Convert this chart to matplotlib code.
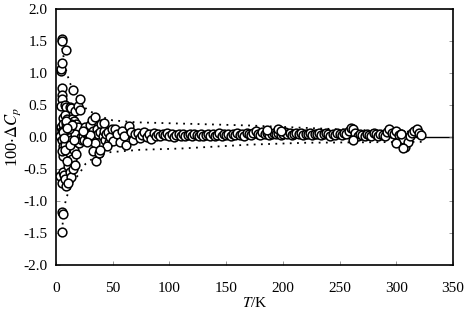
import numpy as np
import matplotlib
matplotlib.use('Agg')
import matplotlib.pyplot as plt

# low temperature cloud (T < 50 K)
t_low = [4.5, 4.0, 5.0, 5.0, 5.5, 9.0, 5.0, 5.0, 5.5, 4.5, 6.0, 4.0, 5.0, 6.0, 3.5,
         5.0, 6.0, 6.5, 5.5, 3.5, 5.5, 9.0, 6.0, 5.5, 6.0, 5.5, 7.0, 8.0,
         7.5, 9.0, 8.0, 10.0, 8.5, 11.0, 12.0, 13.5, 15.0, 14.0, 12.5, 10.0, 9.5, 11.0,
         12.0, 13.5, 15.0, 16.0, 17.0, 18.0, 19.5, 21.0, 21.0, 18.0, 17.0, 16.0, 14.0,
         10.5, 12.0, 13.0, 15.0, 17.0, 18.0, 20.0, 11.0, 9.5, 19.0, 20.0, 16.5, 22.0,
         23.0, 24.0, 25.0, 7.0, 8.0, 10.0, 13.0, 7.5, 9.0,
         26.0, 27.0, 28.0, 29.0, 30.0, 31.5, 34.0, 33.0, 32.0, 34.0, 36.0, 35.0, 38.0,
         37.0, 40.0, 39.0, 41.0, 42.0, 43.0, 44.0, 46.0, 47.0, 48.0, 50.0, 49.0,
         33.0, 37.5, 42.0, 45.0, 39.0, 30.0, 27.0, 24.0,
         6.5, 8.5, 11.5, 14.5, 7.0, 10.0, 12.5, 16.0]
dcp_low = [1.03, 1.07, 1.16, 1.53, 1.50, 1.36, 0.76, 0.66, 0.60, 0.48, 0.30, 0.15, 0.10, 0.20, 0.02,
           -0.05, -0.14, -0.30, -0.22, -0.61, -0.72, -0.77, -0.55, -1.17, -1.20, -1.48, -0.60, -0.65,
           0.50, 0.47, 0.35, 0.28, 0.15, 0.20, 0.47, 0.46, 0.74, 0.28, 0.10, 0.05, -0.08, -0.15,
           -0.25, -0.05, 0.12, 0.25, 0.40, 0.20, 0.48, 0.59, 0.42, 0.05, -0.10, -0.20, -0.35,
           -0.45, -0.55, -0.62, -0.50, -0.44, -0.27, -0.10, -0.72, -0.38, 0.15, -0.02, 0.05, 0.00,
           -0.05, 0.02, -0.05, 0.10, -0.12, 0.12, 0.20, -0.20, 0.22,
           0.15, 0.05, 0.02, -0.02, 0.18, 0.27, 0.32, 0.10, -0.05, -0.10, 0.12, -0.38, -0.25,
           0.05, 0.20, 0.08, 0.02, 0.10, -0.05, 0.05, 0.08, -0.08, 0.00, -0.06, 0.12,
           -0.22, -0.25, 0.22, -0.14, -0.20, 0.03, -0.08, 0.10,
           0.08, 0.25, 0.12, 0.18, -0.02, 0.14, -0.12, -0.05]

# regular run above 50 K
t_high = list(range(52, 323, 2))
dcp_high = [0.12, 0.05, -0.08, 0.10, 0.02, -0.12, 0.17, 0.08, -0.05, 0.04,
            0.06, -0.02, 0.03, 0.08, 0.00, 0.05, -0.03, 0.06, 0.02, 0.04,
            0.01, 0.05, 0.03, 0.07, 0.02, 0.04, 0.00, 0.03, 0.05, 0.02,
            0.04, 0.01, 0.03, 0.05, 0.02, 0.04, 0.03, 0.01, 0.04, 0.02,
            0.03, 0.05, 0.02, 0.04, 0.01, 0.03, 0.06, 0.02, 0.04, 0.03,
            0.05, 0.02, 0.04, 0.03, 0.06, 0.03, 0.05, 0.02, 0.07, 0.04,
            0.03, 0.06, 0.09, 0.05, 0.03, 0.08, 0.04, 0.06, 0.03, 0.05,
            0.07, 0.04, 0.06, 0.03, 0.05, 0.08, 0.04, 0.06, 0.03, 0.05,
            0.06, 0.04, 0.07, 0.03, 0.05, 0.04, 0.06, 0.03, 0.05, 0.04,
            0.06, 0.03, 0.05, 0.07, 0.04, 0.02, 0.05, 0.03, 0.06, 0.04,
            0.03, 0.07, 0.05, 0.10, 0.14, 0.12, 0.06, 0.02, 0.04, 0.03,
            0.01, 0.05, 0.03, 0.02, 0.06, 0.04, 0.01, 0.05, 0.03, 0.02,
            0.08, 0.12, 0.06, 0.04, 0.10, 0.03, 0.05, -0.03, -0.15, -0.08,
            0.02, 0.07, 0.10, 0.12, 0.06, 0.03]
t_extra = [186, 196, 198, 262, 300, 306, 304]
dcp_extra = [0.11, 0.12, 0.10, -0.04, -0.10, -0.17, 0.05]

# dotted envelopes
t_up = [4.5, 8, 12, 20, 27, 39, 50, 70, 110, 170, 250, 325]
env_up = [1.5, 1.1, 0.85, 0.6, 0.43, 0.32, 0.26, 0.23, 0.21, 0.18, 0.12, 0.075]
t_dn = [5.5, 6.5, 9.5, 15, 21, 26, 39, 74, 110, 170, 220, 325]
env_dn = [-1.48, -1.15, -0.93, -0.7, -0.56, -0.42, -0.25, -0.2, -0.18, -0.12, -0.09, -0.075]

plt.rcParams['font.family'] = 'Liberation Serif'
plt.rcParams['mathtext.fontset'] = 'stix'
lsize = 11

fig = plt.figure(figsize=(4.68, 3.22), dpi=100)
fig.subplots_adjust(left=56/468, right=453/468, top=1-9/322, bottom=1-265/322)
ax = fig.add_subplot(111)

ax.axhline(0.0, color='black', lw=1.0, zorder=1)
ax.plot(t_up, env_up, color='black', ls=(0, (1, 3)), lw=1.3, zorder=2)
ax.plot(t_dn, env_dn, color='black', ls=(0, (1, 3)), lw=1.3, zorder=2)

t_all = t_low + t_high + t_extra
d_all = dcp_low + dcp_high + dcp_extra
ax.plot(t_all, d_all, ls='none', marker='o', ms=6.3, mfc='white', mec='black', mew=1.1, zorder=3)

ax.set_xlim(0, 350)
ax.set_ylim(-2.0, 2.0)
ax.set_xticks(np.arange(0, 351, 50))
ax.set_yticks(np.arange(-2.0, 2.01, 0.5))
ax.set_yticklabels(['{:.1f}'.format(v) for v in np.arange(-2.0, 2.01, 0.5)])
ax.tick_params(direction='in', length=3, width=0.6, labelsize=lsize, right=True, color='#888888')
ax.tick_params(axis='x', pad=12)
ax.tick_params(axis='y', pad=6)
for s in ax.spines.values():
  s.set_linewidth(1.2)
ax.set_xlabel(r'$T$/K', fontsize=lsize, labelpad=1)
ax.set_ylabel(r'100$\cdot\Delta C_p$', fontsize=12)
ax.yaxis.set_label_coords(-0.082, 0.5)

fig.savefig('out.png', dpi=100)
